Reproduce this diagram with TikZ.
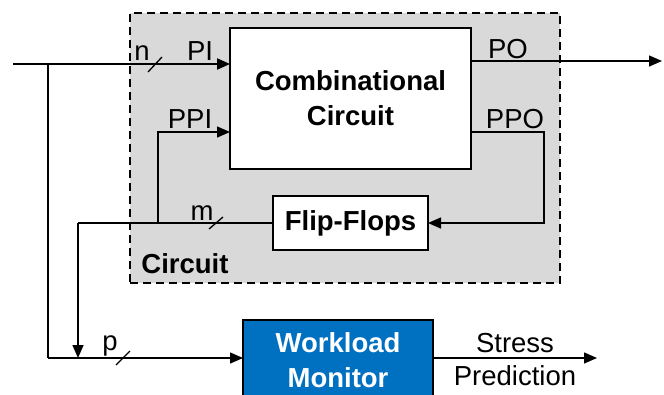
\documentclass[tikz,border=0pt]{standalone}
\usepackage{fontspec}
\setmainfont{Liberation Sans}
\usetikzlibrary{arrows.meta}
\definecolor{wmblue}{HTML}{0070C0}
\definecolor{boxgrey}{HTML}{D9D9D9}

\begin{document}
\begin{tikzpicture}[x=1pt,y=-1pt,
  wire/.style={line width=1.4pt},
  sig/.style={wire,-{Triangle[length=13pt,width=11pt]}},
  tick/.style={line width=1.3pt},
  lbl/.style={font=\fontsize{27.5}{34}\selectfont, inner sep=0pt, anchor=base},
  blbl/.style={lbl, font=\fontsize{27.5}{34}\selectfont\bfseries},
  block/.style={draw, line width=1.4pt, fill=white, inner sep=0pt, outer sep=0pt,
    align=center, font=\fontsize{27.5}{35}\selectfont\bfseries}
]
\useasboundingbox (0,0) rectangle (664,394);
\clip (0,0) rectangle (664,394);

% circuit enclosure
\node[draw, line width=1.4pt, dash pattern=on 8pt off 5pt, fill=boxgrey,
      minimum width=430pt, minimum height=270pt, inner sep=0pt, outer sep=0pt]
      (circ) at (345,148) {};

% blocks
\node[block, minimum width=241pt, minimum height=141pt] (cc) at (350.5,98.5)
  {Combinational\\Circuit};
\node[block, minimum width=155pt, minimum height=54pt] (ff) at (350.5,223)
  {Flip-Flops};
\node[block, fill=wmblue, text=white, minimum width=190pt, minimum height=81pt]
  (wm) at (338,360.5) {Workload\\Monitor};

% helper coordinates
\coordinate (src)  at (13,64);
\coordinate (tapA) at (48,64);
\coordinate (tapB) at (48,358);
\coordinate (poout) at (662,61);
\coordinate (ppoR) at (544,132);
\coordinate (ppiL) at (158,132);
\coordinate (mL)   at (78,223);
\coordinate (sp)   at (597,358);

% primary inputs
\draw[sig, line width=2pt] (src) -- (src -| cc.west);
\draw[wire] (tapA) -- (tapB);
\draw[sig] (tapB) -- (tapB -| wm.west);

% primary outputs
\draw[sig] (poout -| cc.east) -- (poout);

% state feedback
\draw[sig] (ppoR -| cc.east) -- (ppoR) |- (ff.east);
\draw[wire] (ff.west) -- (mL);
\draw[sig] (ppiL |- ff.west) -- (ppiL) -- (ppiL -| cc.west);
\draw[sig] (mL) -- (mL |- tapB);

% monitor output
\draw[sig] (sp -| wm.east) -- (sp);

% bus width ticks
\draw[tick] (155,64) +(-7,8) -- +(7,-7);
\draw[tick] (216,223) +(-7,6) -- +(7,-6);
\draw[tick] (123,358) +(-7,7) -- +(7,-7);

% labels
\node[lbl] at (142,60) {n};
\node[lbl] at (200,60) {PI};
\node[lbl] at (190,128) {PPI};
\node[lbl] at (508,58) {PO};
\node[lbl] at (515,128) {PPO};
\node[lbl] at (202,220) {m};
\node[lbl] at (110,350) {p};
\node[blbl] at (185,273) {Circuit};
\node[lbl] at (515,352) {Stress};
\node[lbl] at (515,385) {Prediction};
\end{tikzpicture}
\end{document}
